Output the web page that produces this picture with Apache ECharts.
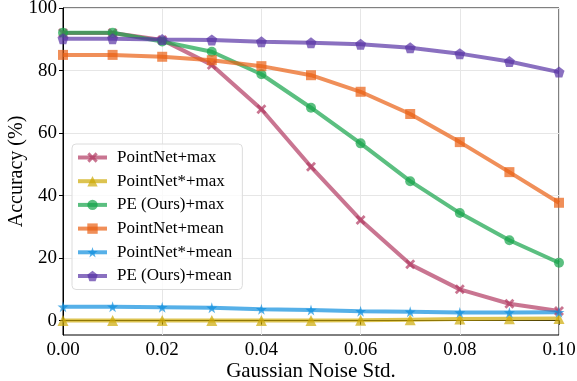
<!DOCTYPE html>
<html>
<head>
<meta charset="utf-8">
<script src="https://cdn.jsdelivr.net/npm/echarts@6.0.0/dist/echarts.min.js"></script>
<style>
  html, body { margin: 0; padding: 0; background: #fff; }
  #chart { width: 577px; height: 381px; }
</style>
</head>
<body>
<div id="chart"></div>
<script>
// noise std on the x axis
const noiseStd = [0.00, 0.01, 0.02, 0.03, 0.04, 0.05, 0.06, 0.07, 0.08, 0.09, 0.10];

// accuracy (%) per method
const pointnetMax = [92.0, 92.0, 89.8, 81.8, 67.6, 49.2, 32.2, 18.0, 10.0, 5.4, 3.1];
const pointnetStarMax = [0.0, 0.0, 0.0, 0.0, 0.0, 0.0, 0.1, 0.3, 0.5, 0.6, 0.7];
const peMax = [92.1, 92.1, 89.3, 86.0, 78.8, 68.1, 56.7, 44.6, 34.4, 25.7, 18.5];
const pointnetMean = [85.0, 85.0, 84.4, 83.3, 81.4, 78.5, 73.2, 66.1, 57.1, 47.5, 37.7];
const pointnetStarMean = [4.4, 4.4, 4.3, 4.1, 3.6, 3.4, 3.0, 2.8, 2.6, 2.6, 2.7];
const peMean = [90.2, 90.2, 89.9, 89.8, 89.2, 88.9, 88.4, 87.3, 85.4, 82.9, 79.5];

const yTicks = [0, 20, 40, 60, 80, 100];

const seriesDefs = [
  { name: "PointNet+max", data: pointnetMax, color: "#b23a63",
    symbol: "path://M2,0 L5,3 L8,0 L10,2 L7,5 L10,8 L8,10 L5,7 L2,10 L0,8 L3,5 L0,2 Z", size: 10 },
  { name: "PointNet*+max", data: pointnetStarMax, color: "#cda905", symbol: "triangle", size: 11 },
  { name: "PE (Ours)+max", data: peMax, color: "#16a44a", symbol: "circle", size: 10 },
  { name: "PointNet+mean", data: pointnetMean, color: "#ea6013", symbol: "rect", size: 10 },
  { name: "PointNet*+mean", data: pointnetStarMean, color: "#0e8ede",
    symbol: "path://M50,0 L61,35 L98,35 L68,57 L79,91 L50,70 L21,91 L32,57 L2,35 L39,35 Z", size: 11 },
  { name: "PE (Ours)+mean", data: peMean, color: "#5833a5",
    symbol: "path://M50,0 L98,35 L79,91 L21,91 L2,35 Z", size: 11 },
];

const font = "'Liberation Serif', 'DejaVu Serif', serif";
const chart = echarts.init(document.getElementById("chart"));

chart.setOption({
  animation: false,
  grid: {
    left: 63, right: 18, top: 8, bottom: 46,
    outerBoundsMode: "none",
    containLabel: false,
    show: true, borderColor: "#000", borderWidth: 1, backgroundColor: "transparent"
  },
  legend: {
    orient: "vertical",
    left: 72, top: 144,
    padding: [5, 10, 5, 4],
    itemWidth: 29, itemHeight: 13, itemGap: 6.7,
    backgroundColor: "rgba(255,255,255,0.8)",
    borderColor: "#dcdcdc", borderWidth: 1, borderRadius: 4,
    lineStyle: { width: 4 },
    textStyle: { fontFamily: font, fontSize: 17, lineHeight: 16, color: "#000", padding: [0, 0, 0, 5] },
    data: seriesDefs.map(s => s.name),
  },
  xAxis: {
    type: "value",
    min: 0, max: 0.1, interval: 0.02,
    name: "Gaussian Noise Std.",
    nameLocation: "middle", nameGap: 26, nameMoveOverlap: false,
    nameTextStyle: { fontFamily: font, fontSize: 21, color: "#000" },
    axisLine: { lineStyle: { color: "#000", width: 1 } },
    axisTick: { show: true, length: 4, lineStyle: { color: "#000" } },
    axisLabel: { fontFamily: font, fontSize: 19, color: "#000", margin: 6,
      formatter: v => v.toFixed(2) },
    splitLine: { show: true, lineStyle: { color: "#e6e6e6", width: 1 } },
  },
  yAxis: {
    type: "value",
    min: -4.6, max: 100,
    name: "Accuracy (%)",
    nameLocation: "middle", nameGap: 36, nameRotate: 90, nameMoveOverlap: false,
    nameTextStyle: { fontFamily: font, fontSize: 20, color: "#000" },
    axisLine: { show: true, lineStyle: { color: "#000", width: 1 } },
    axisTick: { show: true, length: 4, lineStyle: { color: "#000" }, customValues: yTicks },
    axisLabel: { fontFamily: font, fontSize: 19, color: "#000", margin: 6, customValues: yTicks },
    splitLine: { show: true, lineStyle: { color: "#e6e6e6", width: 1 } },
  },
  series: seriesDefs.map(s => ({
    name: s.name,
    type: "line",
    data: noiseStd.map((x, i) => [x, s.data[i]]),
    symbol: s.symbol,
    symbolSize: s.size,
    showAllSymbol: true,
    lineStyle: { color: s.color, width: 4, opacity: 0.7 },
    itemStyle: { color: s.color, opacity: 0.7 },
    emphasis: { disabled: true },
  })),
});
</script>
</body>
</html>
